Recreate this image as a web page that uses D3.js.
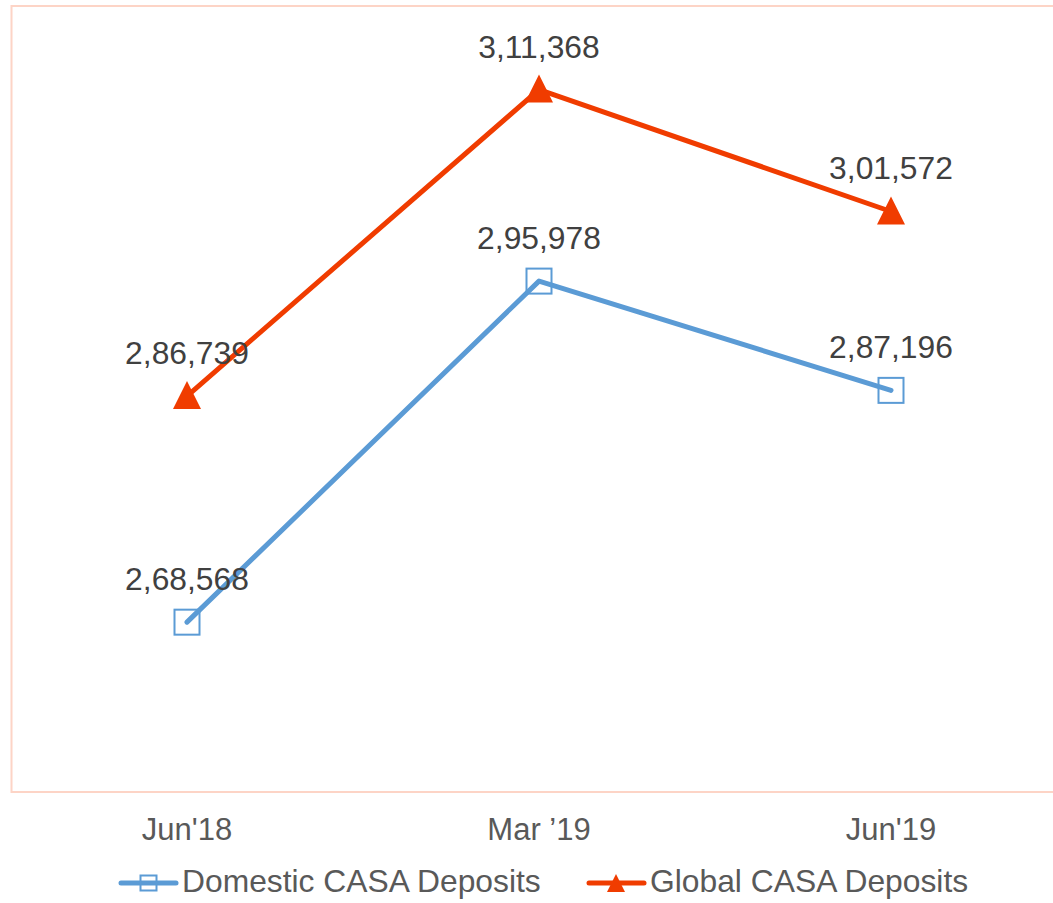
<!DOCTYPE html>
<html>
<head>
<meta charset="utf-8">
<script src="https://cdn.jsdelivr.net/npm/d3@7"></script>
<style>
  body { margin: 0; background: #fff; }
  svg { display: block; font-family: "Liberation Sans", Arial, sans-serif; }
</style>
</head>
<body>
<svg id="chart" width="1053" height="903"></svg>
<script>
(function() {
  var width = 1053,
    height = 903;

  // chart values
  const categories = ["Jun'18", "Mar \u201919", "Jun'19"];
  const domestic = [268568, 295978, 287196];
  const global = [286739, 311368, 301572];
  const seriesNames = ["Domestic CASA Deposits", "Global CASA Deposits"];

  const blue = "#5b9bd5",
    red = "#f03c00";

  // indian style grouping: 2,86,739
  function fmt(v) {
    var s = String(Math.round(v));
    if (s.length <= 3) return s;
    var last = s.slice(-3), rest = s.slice(0, -3);
    return rest.replace(/\B(?=(\d{2})+(?!\d))/g, ",") + "," + last;
  }

  var x = d3.scaleBand()
    .domain(categories)
    .range([11, 1067])
    .padding(0);

  var y = d3.scaleLinear()
    .domain([255000, 315000])
    .range([791, 44.4]);

  var cx = c => x(c) + x.bandwidth() / 2;

  var svg = d3.select("#chart");

  // plot area border
  svg.append("rect")
    .attr("x", 11.5)
    .attr("y", 6)
    .attr("width", 1080)
    .attr("height", 786)
    .attr("fill", "none")
    .attr("stroke", "#fdd4c6")
    .attr("stroke-width", 2);

  var line = d3.line()
    .x(d => cx(d.cat))
    .y(d => y(d.value));

  function tri(px, py, w, h) {
    return "M" + px + "," + (py - h / 2) +
      "L" + (px + w / 2) + "," + (py + h / 2) +
      "L" + (px - w / 2) + "," + (py + h / 2) + "Z";
  }

  var series = [
    { name: seriesNames[0], color: blue, marker: "square",
      points: categories.map((c, i) => ({ cat: c, value: domestic[i] })) },
    { name: seriesNames[1], color: red, marker: "triangle",
      points: categories.map((c, i) => ({ cat: c, value: global[i] })) }
  ];

  series.forEach(s => {
    svg.append("path")
      .datum(s.points)
      .attr("d", line)
      .attr("fill", "none")
      .attr("stroke", s.color)
      .attr("stroke-width", 5)
      .attr("stroke-linecap", "round")
      .attr("stroke-linejoin", "round");

    if (s.marker == "square") {
      svg.selectAll(null)
        .data(s.points)
        .enter()
        .append("rect")
        .attr("x", d => cx(d.cat) - 12.5)
        .attr("y", d => y(d.value) - 12.5)
        .attr("width", 25)
        .attr("height", 25)
        .attr("fill", "none")
        .attr("stroke", s.color)
        .attr("stroke-width", 2);
    } else {
      svg.selectAll(null)
        .data(s.points)
        .enter()
        .append("path")
        .attr("d", d => tri(cx(d.cat), y(d.value) - 1, 28, 28))
        .attr("fill", s.color);
    }

    // data labels
    svg.selectAll(null)
      .data(s.points)
      .enter()
      .append("text")
      .attr("x", d => cx(d.cat))
      .attr("y", d => y(d.value) - 32)
      .attr("text-anchor", "middle")
      .attr("font-size", 31.8)
      .attr("fill", "#404040")
      .text(d => fmt(d.value));
  });

  // category labels
  svg.selectAll(null)
    .data(categories)
    .enter()
    .append("text")
    .attr("x", d => cx(d))
    .attr("y", 840)
    .attr("text-anchor", "middle")
    .attr("font-size", 31)
    .attr("fill", "#595959")
    .text(d => d);

  // legend
  var legend = [
    { x: 121, s: series[0] },
    { x: 589, s: series[1] }
  ];
  legend.forEach(l => {
    var g = svg.append("g").attr("transform", "translate(" + l.x + ",883)");
    g.append("line")
      .attr("x1", 0).attr("x2", 55)
      .attr("stroke", l.s.color)
      .attr("stroke-width", 5)
      .attr("stroke-linecap", "round");
    if (l.s.marker == "square") {
      g.append("rect")
        .attr("x", 19.5).attr("y", -7.5)
        .attr("width", 16).attr("height", 15)
        .attr("fill", "none")
        .attr("stroke", l.s.color)
        .attr("stroke-width", 2);
    } else {
      g.append("path")
        .attr("d", tri(27, 0, 18, 18))
        .attr("fill", l.s.color);
    }
    g.append("text")
      .attr("x", 61)
      .attr("y", 9)
      .attr("font-size", 31.8)
      .attr("fill", "#595959")
      .text(l.s.name);
  });
})();
</script>
</body>
</html>
